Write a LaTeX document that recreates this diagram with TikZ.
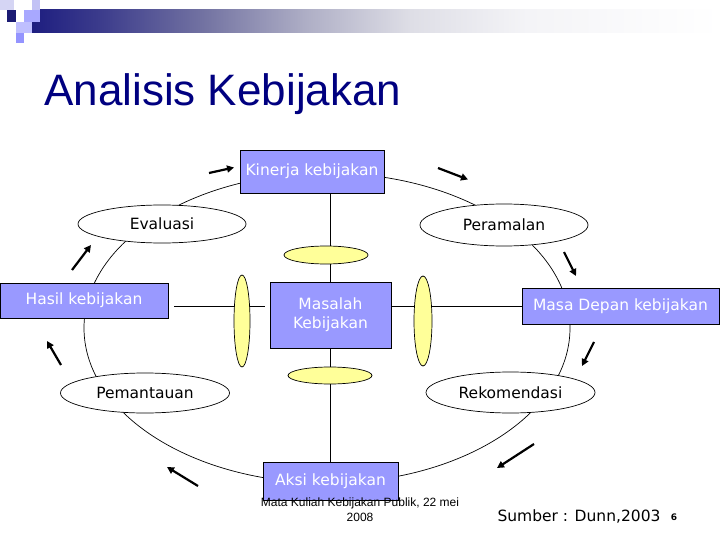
\documentclass[tikz,border=0pt]{standalone}
\usepackage{fontspec}
\setmainfont{DejaVu Sans}
\newfontfamily\arialfont{Liberation Sans}
\usetikzlibrary{shapes.geometric,arrows.meta}
\definecolor{boxblue}{RGB}{153,153,255}
\definecolor{yelfill}{RGB}{255,255,153}
\definecolor{navy}{RGB}{0,0,128}
\definecolor{barnavy}{RGB}{30,30,128}
\definecolor{bardark}{RGB}{60,60,140}
\definecolor{barq}{RGB}{115,115,162}
\definecolor{barmid}{RGB}{175,175,198}
\definecolor{barlight}{RGB}{222,222,230}
\definecolor{barvlight}{RGB}{244,244,247}
\pgfdeclarehorizontalshading{barshade}{100bp}{color(0bp)=(barnavy); color(25bp)=(barnavy); color(30bp)=(bardark); color(37.5bp)=(barq); color(45bp)=(barmid); color(52.5bp)=(barlight); color(61bp)=(barvlight); color(75bp)=(white); color(100bp)=(white)}
\tikzset{
  boxnode/.style={draw=black, line width=0.6pt, fill=boxblue, text=white, inner sep=0pt,
    font=\fontsize{15.5}{19}\selectfont, align=center},
  ovalnode/.style={ellipse, draw=black, line width=0.7pt, fill=white, inner sep=0pt,
    minimum width=168pt, minimum height=40pt, font=\fontsize{15.5}{19}\selectfont},
  yelnode/.style={ellipse, draw=black, line width=0.7pt, fill=yelfill, inner sep=0pt},
  conn/.style={draw=black, line width=0.7pt},
  flowarrow/.style={line width=2.2pt, -{Triangle[length=7pt,width=7pt]}},
}
\begin{document}
\begin{tikzpicture}[x=1pt,y=-1pt]
\useasboundingbox (0,0) rectangle (720,540);
\fill[white] (0,0) rectangle (720,540);
% header bar and squares
\shade[shading=barshade] (32,10) rectangle (720,33);
\fill[black!5!white!88!blue] (0,0) rectangle (14,10);
\fill[black!5!white!80!blue] (32,0) rectangle (40,10);
\fill[barnavy!90!black] (7,10) rectangle (16,22);
\fill[white!66!blue] (24,10) rectangle (40,22);
\fill[white!75!blue] (16,22) rectangle (32,33);
\fill[white!58!blue] (16,33) rectangle (24,43);
% title
\node[anchor=base west, inner sep=0pt, text=navy, font=\arialfont\fontsize{44}{50}\selectfont] (title) at (44,106) {Analisis Kebijakan};
% big cycle
\draw[conn] (327,328) ellipse [x radius=243pt, y radius=155pt];
% nodes
\node[boxnode, minimum width=144pt, minimum height=43pt] (kinerja) at (312,171.5) {Kinerja kebijakan};
\node[boxnode, minimum width=121pt, minimum height=66pt] (masalah) at (330.5,315) {Masalah\\Kebijakan};
\node[boxnode, minimum width=168pt, minimum height=35pt] (hasil) at (84,300.5) {Hasil kebijakan};
\node[boxnode, minimum width=197pt, minimum height=36pt] (masadepan) at (620.5,306) {Masa Depan kebijakan};
% cross lines
\draw[conn, shorten <=6pt, shorten >=5pt] (hasil.east |- masadepan.west) -- (masalah.west |- masadepan.west);
\draw[conn] (masalah.east |- masadepan.west) -- (masadepan.west);
\draw[conn] (masalah.north) -- (masalah.north |- kinerja.south);
\node[boxnode, minimum width=135pt, minimum height=38pt] (aksi) at (330.5,481) {Aksi kebijakan};
\draw[conn] (masalah.south) -- (masalah.south |- aksi.north);
% ovals
\node[ovalnode, minimum height=38pt] (evaluasi) at (162,224) {Evaluasi};
\node[ovalnode, minimum height=42pt] (peramalan) at (504,225) {Peramalan};
\node[ovalnode, minimum width=169pt] (pemantauan) at (145,393) {Pemantauan};
\node[ovalnode, minimum width=169pt, minimum height=41pt] (rekomendasi) at (510.5,392.5) {Rekomendasi};
% yellow ovals
\node[yelnode, minimum width=16pt, minimum height=92pt] (yleft) at (242,321) {};
\node[yelnode, minimum width=18pt, minimum height=90pt] (yright) at (423,321) {};
\node[yelnode, minimum width=84pt, minimum height=18pt] (ytop) at (326,255) {};
\node[yelnode, minimum width=84pt, minimum height=17pt] (ybot) at (330,375.5) {};
% flow arrows
\coordinate (a1t) at (209,173); \coordinate (a1h) at (234,167.5);
\coordinate (a2t) at (438,168); \coordinate (a2h) at (468,179.5);
\coordinate (a3t) at (564,252); \coordinate (a3h) at (576,276);
\coordinate (a4t) at (594,342); \coordinate (a4h) at (582,366);
\coordinate (a5t) at (534,444); \coordinate (a5h) at (497,468);
\coordinate (a6t) at (198,486); \coordinate (a6h) at (167,467);
\coordinate (a7t) at (61,365); \coordinate (a7h) at (47,341);
\coordinate (a8t) at (72,270); \coordinate (a8h) at (91,245);
\foreach \i in {1,...,8} {\draw[flowarrow] (a\i t) -- (a\i h);}
% footer
\node[inner sep=0pt, align=center, font=\arialfont\fontsize{12}{15}\selectfont] (footer) at (360,509.5) {Mata Kuliah Kebijakan Publik, 22 mei\\2008};
\node[inner sep=0pt, font=\fontsize{15.5}{19}\selectfont] (sumber) at (579,517) {Sumber : Dunn,2003};
\node[inner sep=0pt, font=\bfseries\fontsize{9}{11}\selectfont] (pagenum) at (674,517) {6};
\end{tikzpicture}
\end{document}
